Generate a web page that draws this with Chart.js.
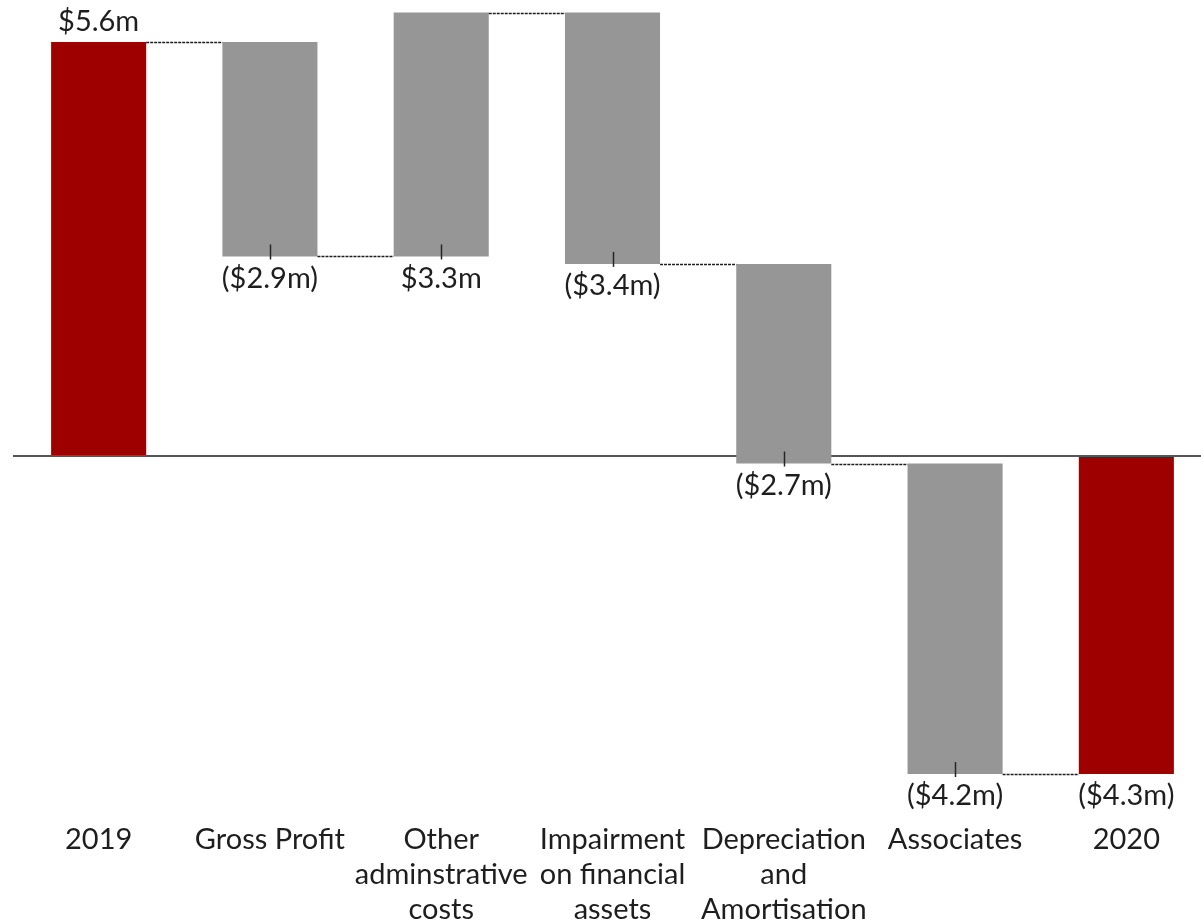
<!DOCTYPE html>
<html>
<head>
<meta charset="utf-8">
<title>Profit bridge 2019 to 2020</title>
<script src="https://cdn.jsdelivr.net/npm/chart.js@4/dist/chart.umd.min.js"></script>
<style>
  html, body { margin: 0; padding: 0; background: #ffffff; overflow: hidden; }
  #wrap { width: 1212px; height: 938px; }
</style>
</head>
<body>
<div id="wrap"><canvas id="bridge" width="1212" height="938"></canvas></div>
<script>
// Bridge steps, in $m
const categories = ['2019', 'Gross Profit', ['Other', 'adminstrative', 'costs'], ['Impairment', 'on financial', 'assets'], ['Depreciation', 'and', 'Amortisation'], 'Associates', '2020'];
const movements = [5.6, -2.9, 3.3, -3.4, -2.7, -4.2, -4.3];
const isTotal = [true, false, false, false, false, false, true];
const valueLabels = ['$5.6m', '($2.9m)', '$3.3m', '($3.4m)', '($2.7m)', '($4.2m)', '($4.3m)'];

// Floating [start, end] ranges built from the movements
const ranges = [];
const levels = [];
let running = 0;
movements.forEach((v, i) => {
  if (isTotal[i]) {
    ranges.push([0, v]);
    running = v;
  } else {
    ranges.push([running, running + v]);
    running = running + v;
  }
  levels.push(running);
});

const RED = '#9e0000';
const GREY = '#969696';
const TEXT = '#1e1e1e';
const FONT = 'Lato, "Open Sans", sans-serif';
const FONT_SIZE = 29;

const bridgeDecor = {
  id: 'bridgeDecor',
  afterDatasetsDraw(chart) {
    const ctx = chart.ctx;
    const meta = chart.getDatasetMeta(0);
    const y = chart.scales.y;
    ctx.save();

    // dashed connectors between consecutive bars
    ctx.strokeStyle = '#1e1e1e';
    ctx.lineWidth = 1.3;
    ctx.setLineDash([3, 1]);
    for (let i = 0; i < meta.data.length - 1; i++) {
      const a = meta.data[i], b = meta.data[i + 1];
      const py = Math.round(y.getPixelForValue(levels[i])) + 0.5;
      ctx.beginPath();
      ctx.moveTo(a.x + a.width / 2, py);
      ctx.lineTo(b.x - b.width / 2, py);
      ctx.stroke();
    }
    ctx.setLineDash([]);

    // leader ticks and value labels
    ctx.font = FONT_SIZE + 'px ' + FONT;
    ctx.fillStyle = TEXT;
    ctx.textAlign = 'center';
    ctx.textBaseline = 'middle';
    meta.data.forEach((bar, i) => {
      const top = Math.min(bar.y, bar.base);
      const bottom = Math.max(bar.y, bar.base);
      if (i === 0) {
        ctx.fillText(valueLabels[i], bar.x, top - 20);
        return;
      }
      if (!isTotal[i]) {
        ctx.strokeStyle = '#262626';
        ctx.lineWidth = 1.5;
        ctx.beginPath();
        ctx.moveTo(Math.round(bar.x) + 0.5, bottom - 12);
        ctx.lineTo(Math.round(bar.x) + 0.5, bottom + 3);
        ctx.stroke();
      }
      ctx.fillText(valueLabels[i], bar.x, bottom + 22);
    });
    ctx.restore();
  }
};

new Chart(document.getElementById('bridge'), {
  type: 'bar',
  data: {
    labels: categories,
    datasets: [{
      data: ranges,
      backgroundColor: isTotal.map(t => t ? RED : GREY),
      borderWidth: 0,
      borderSkipped: false,
      barPercentage: 0.555,
      categoryPercentage: 1.0
    }]
  },
  options: {
    responsive: false,
    devicePixelRatio: 1,
    animation: false,
    layout: { padding: { left: 13, right: 0, top: 5.125, bottom: 0 } },
    plugins: {
      legend: { display: false },
      tooltip: { enabled: false },
      title: { display: false }
    },
    scales: {
      x: {
        grid: { display: false, drawTicks: false },
        border: { display: false },
        ticks: {
          color: TEXT,
          padding: 11,
          maxRotation: 0,
          autoSkip: false,
          font: { family: FONT, size: FONT_SIZE, lineHeight: '35px' }
        }
      },
      y: {
        min: -4.8,
        max: 6.1,
        afterBuildTicks(scale) { scale.ticks = [{ value: 0 }]; },
        grid: {
          color: '#555555',
          lineWidth: 2,
          drawTicks: false
        },
        border: { display: false },
        ticks: { display: false }
      }
    }
  },
  plugins: [bridgeDecor]
});
</script>
</body>
</html>
